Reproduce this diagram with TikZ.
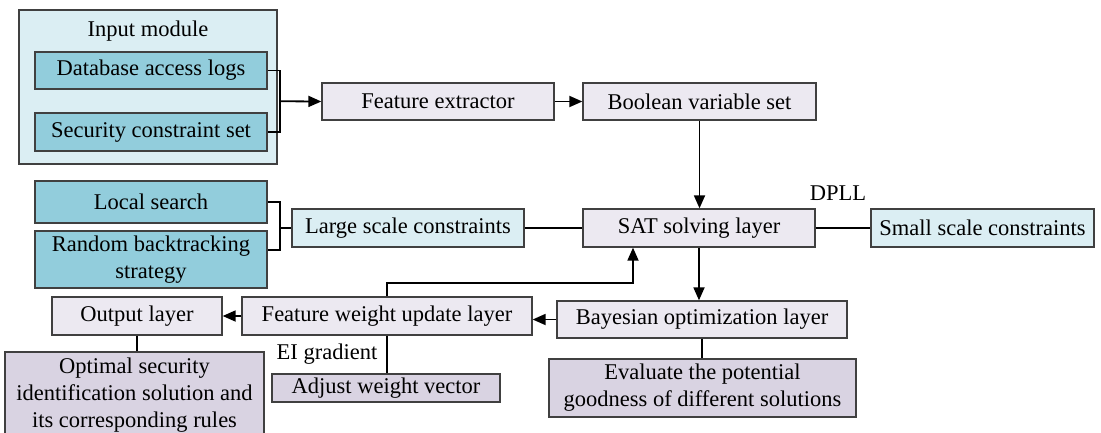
\documentclass[tikz,border=0pt]{standalone}
\usepackage{fontspec}
\setmainfont{Liberation Serif}
\usetikzlibrary{arrows.meta,calc}
\definecolor{lightblue}{HTML}{DBEEF3}
\definecolor{teal}{HTML}{92CDDC}
\definecolor{lav}{HTML}{ECE9F1}
\definecolor{lavdark}{HTML}{D9D3E2}
\definecolor{bordergray}{HTML}{404040}
\tikzset{
  box/.style={draw=bordergray, line width=1.3pt, inner sep=0pt, align=center,
              font=\fontsize{22.5}{27}\selectfont},
  procbox/.style={box, fill=lav},
  bluebox/.style={box, fill=lightblue},
  tealbox/.style={box, fill=teal},
  darkbox/.style={box, fill=lavdark},
  lbl/.style={inner sep=0pt, font=\fontsize{22.5}{27}\selectfont},
  conn/.style={line width=1.8pt, black},
  arr/.style={conn, -{Triangle[length=13pt,width=11pt]}},
}
\begin{document}
\begin{tikzpicture}[x=1pt,y=-1pt]
\useasboundingbox (0,0) rectangle (1101,432);
\begin{scope}
\clip (0,0) rectangle (1101,432);
% input module
\node[bluebox, minimum width=258pt, minimum height=154pt] (inmod) at (148,87) {};
\node[lbl] (inlabel) at (148,31) {Input module};
\node[tealbox, minimum width=232pt, minimum height=37pt] (db) at (151,70.5) {Database access logs};
\node[tealbox, minimum width=232pt, minimum height=38pt] (sec) at (151,132) {Security constraint set};
% top row
\node[procbox, minimum width=232pt, minimum height=37pt] (fe) at (438,101.5) {Feature extractor};
\node[procbox, minimum width=233pt, minimum height=37pt] (bool) at (699.5,101.5) {Boolean variable set};
% middle row
\node[procbox, minimum width=232pt, minimum height=38pt] (sat) at (699,228) {SAT solving layer};
\node[bluebox, minimum width=223pt, minimum height=38pt] (small) at (982.5,228) {Small scale constraints};
\node[bluebox, minimum width=232pt, minimum height=38pt] (large) at (408,228) {Large scale constraints};
\node[tealbox, minimum width=232pt, minimum height=42pt] (local) at (151,202) {Local search};
\node[tealbox, minimum width=232pt, minimum height=57pt] (rand) at (151,259.5) {Random backtracking\\strategy};
\node[lbl] (dpll) at (838,193) {DPLL};
% lower row
\node[procbox, minimum width=290pt, minimum height=38pt] (fw) at (387,316) {Feature weight update layer};
\node[procbox, minimum width=170pt, minimum height=38pt] (out) at (137,316) {Output layer};
\node[procbox, minimum width=290pt, minimum height=37pt] (bayes) at (702,319.5) {Bayesian optimization layer};
\node[darkbox, minimum width=259pt, minimum height=86pt] (opt) at (134.5,395) {Optimal security\\identification solution and\\its corresponding rules};
\node[darkbox, minimum width=228pt, minimum height=28pt] (adj) at (386,388) {Adjust weight vector};
\node[darkbox, minimum width=307pt, minimum height=58pt] (eval) at (702.5,388) {Evaluate the potential\\goodness of different solutions};
\node[lbl] (ei) at (327,354) {EI gradient};
\end{scope}
% connectors
\coordinate (br1) at (280,101.25);
\draw[conn] (db.east) -| (br1) |- (sec.east);
\draw[arr] (br1) -- (fe.west);
\draw[arr] (fe.east) -- (bool.west);
\draw[arr] (bool.south) -- (bool.south |- sat.north);
\draw[conn] (sat.east) -- (small.west);
\draw[conn] (large.east) -- (sat.west);
\coordinate (br2) at (280,228);
\draw[conn] (local.east) -| (br2) |- ([yshift=9.5pt]rand.east);
\draw[conn] (br2) -- (large.west);
\draw[arr] (sat.south) -- (sat.south |- bayes.north);
\coordinate (up) at (633,283);
\draw[arr] (fw.north) |- (up) -- (up |- sat.south);
\draw[arr] (bayes.west) -- (bayes.west -| fw.east);
\draw[arr] (fw.west) -- (out.east);
\draw[conn] (out.south) -- (out.south |- opt.north);
\draw[conn] (fw.south) -- (fw.south |- adj.north);
\draw[conn] (bayes.south) -- (bayes.south |- eval.north);
\end{tikzpicture}
\end{document}
